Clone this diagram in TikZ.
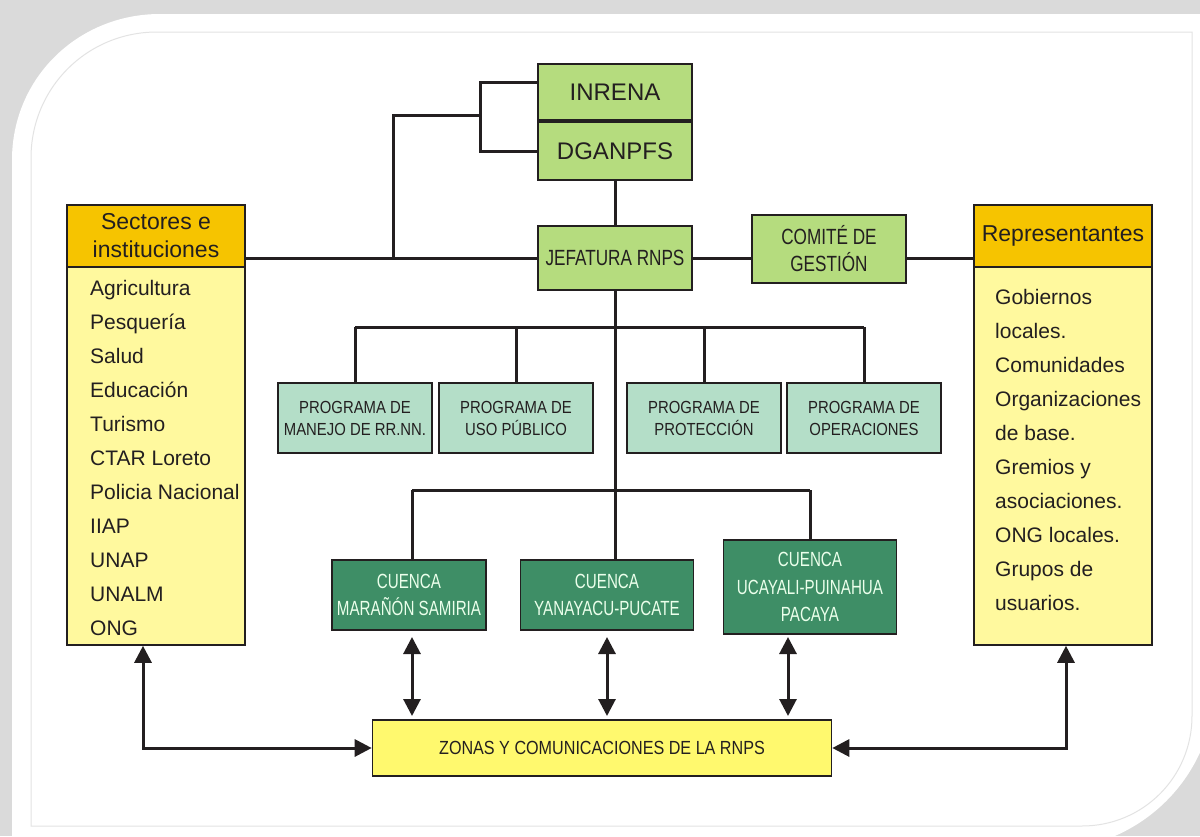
\documentclass[tikz,border=0pt]{standalone}
\usepackage{fontspec}
\setmainfont{Liberation Sans}
\newfontfamily\jefafont[FakeStretch=0.78]{Liberation Sans}
\newfontfamily\progfont[FakeStretch=0.85]{Liberation Sans}
\newfontfamily\cuencafont[FakeStretch=0.74]{Liberation Sans}
\usetikzlibrary{calc,arrows.meta}
\definecolor{ink}{RGB}{35,31,32}
\definecolor{headgreen}{RGB}{181,220,126}
\definecolor{progmint}{RGB}{180,222,200}
\definecolor{cuencagreen}{RGB}{62,142,102}
\definecolor{headorange}{RGB}{246,196,0}
\definecolor{listyellow}{RGB}{255,249,158}
\definecolor{zonayellow}{RGB}{255,249,110}
\definecolor{shadowgray}{RGB}{218,218,218}
\tikzset{
  linebox/.style={draw=ink, line width=1.6pt, inner sep=0pt, align=center, text=ink},
  topbox/.style={linebox, fill=headgreen, minimum width=154pt},
  prog/.style={linebox, fill=progmint, minimum width=154pt, minimum height=70pt,
    font=\progfont\fontsize{17.5}{22}\selectfont},
  cuenca/.style={linebox, fill=cuencagreen, text=white!92!green,
    font=\cuencafont\fontsize{20.5}{27.5}\selectfont},
  headbox/.style={linebox, fill=headorange, minimum width=178pt, minimum height=62pt,
    font=\fontsize{23}{28}\selectfont},
  listbody/.style={linebox, fill=listyellow, minimum width=178pt, minimum height=378pt},
  listitem/.style={anchor=base west, inner sep=0pt, text=ink, font=\fontsize{21}{25}\selectfont},
  conn/.style={draw=ink, line width=3pt},
  tip/.tip={Triangle[width=17pt,length=17pt]},
  twoway/.style={conn, tip-tip}
}
\begin{document}
\begin{tikzpicture}[x=1pt,y=-1pt]
\useasboundingbox (0,0) rectangle (1200,836);
% card and frame
\fill[shadowgray] (0,0) rectangle (1200,836);
\fill[white] (12,850) -- (12,160) .. controls (12,78) and (78,14) .. (160,14) -- (1215,14)
  -- (1215,683) .. controls (1215,776) and (1140,850) .. (1047,850) -- cycle;
\draw[gray!22, line width=1pt] (31,826) -- (31,158) .. controls (31,88) and (87,32) .. (157,32)
  -- (1192,32) -- (1192,716) .. controls (1192,777) and (1143,826) .. (1082,826) -- cycle;

% top of the chart
\node[topbox, minimum height=56pt, font=\fontsize{24}{28}\selectfont] (inrena) at (615,92) {INRENA};
\node[topbox, minimum height=58pt, font=\fontsize{24}{28}\selectfont] (dganpfs) at (615,151) {DGANPFS};
\node[topbox, minimum height=64pt, font=\jefafont\fontsize{22}{27}\selectfont] (jefatura) at (615,258) {JEFATURA RNPS};
\node[topbox, minimum height=68pt, font=\jefafont\fontsize{22}{27}\selectfont] (comite) at (829,249) {COMITÉ DE\\GESTIÓN};

% side lists
\node[listbody] (secbody) at (156,456) {};
\node[headbox] (sectores) at (156,236) {Sectores e\\instituciones};
\node[listbody] (repbody) at (1063,456) {};
\node[headbox] (repres) at (1063,236) {Representantes};
\foreach \lbl [count=\i] in {Agricultura, Pesquería, Salud, Educación, Turismo, CTAR Loreto,
    Policia Nacional, IIAP, UNAP, UNALM, ONG}
  \node[listitem] (sec\i) at (90,{295+34*(\i-1)}) {\lbl};
\foreach \lbl [count=\i] in {Gobiernos, locales., Comunidades, Organizaciones, de base.,
    Gremios y, asociaciones., ONG locales., Grupos de, usuarios.}
  \node[listitem] (rep\i) at (995,{304+34*(\i-1)}) {\lbl};

% programas
\node[prog] (prog1) at (355,418) {PROGRAMA DE\\MANEJO DE RR.NN.};
\node[prog] (prog2) at (516,418) {PROGRAMA DE\\USO PÚBLICO};
\node[prog] (prog3) at (704,418) {PROGRAMA DE\\PROTECCIÓN};
\node[prog] (prog4) at (864,418) {PROGRAMA DE\\OPERACIONES};

% cuencas
\node[cuenca, minimum width=154pt, minimum height=70pt] (cuenca1) at (409,595) {CUENCA\\MARAÑÓN SAMIRIA};
\node[cuenca, minimum width=173pt, minimum height=70pt] (cuenca2) at (607,595) {CUENCA\\YANAYACU-PUCATE};
\node[cuenca, minimum width=173pt, minimum height=94pt] (cuenca3) at (810,587) {CUENCA\\UCAYALI-PUINAHUA\\PACAYA};

\node[linebox, fill=zonayellow, minimum width=459pt, minimum height=56pt,
  font=\progfont\fontsize{19}{23}\selectfont] (zonas) at (602,748) {ZONAS Y COMUNICACIONES DE LA RNPS};

% connectors
\coordinate (brk) at (480,115);
\draw[conn] ($(inrena.west)+(0,-10)$) -| (brk) |- (dganpfs.west);
\draw[conn] (brk) -| (393,258);
\draw[conn] (sectores.east |- jefatura.west) -- (jefatura.west);
\draw[conn] (jefatura.east) -- (comite.west |- jefatura.east);
\draw[conn] (comite.east |- jefatura.east) -- (repres.west |- jefatura.east);
\draw[conn] (dganpfs.south) -- (jefatura.north);
\draw[conn] (jefatura.south) -- (jefatura.south |- cuenca2.north);
\coordinate (busp) at (615,327);
\draw[conn] (prog1.north |- busp) -- (prog4.north |- busp);
\foreach \i in {1,...,4}
  \draw[conn] (prog\i.north |- busp) -- (prog\i.north);
\coordinate (busc) at (615,490);
\draw[conn] (412,490) -- (cuenca3.north |- busc);
\draw[conn] (412,490) -- (412,560);
\draw[conn] (cuenca3.north |- busc) -- (cuenca3.north);

% two way arrows
\draw[twoway] (412,637) -- (412,716);
\draw[twoway] (607,637) -- (607,716);
\draw[twoway] (788,637) -- (788,716);
\draw[twoway] (secbody.south -| 143,0) |- (zonas.west);
\draw[twoway] (repbody.south -| 1066,0) |- (zonas.east);
\end{tikzpicture}
\end{document}
